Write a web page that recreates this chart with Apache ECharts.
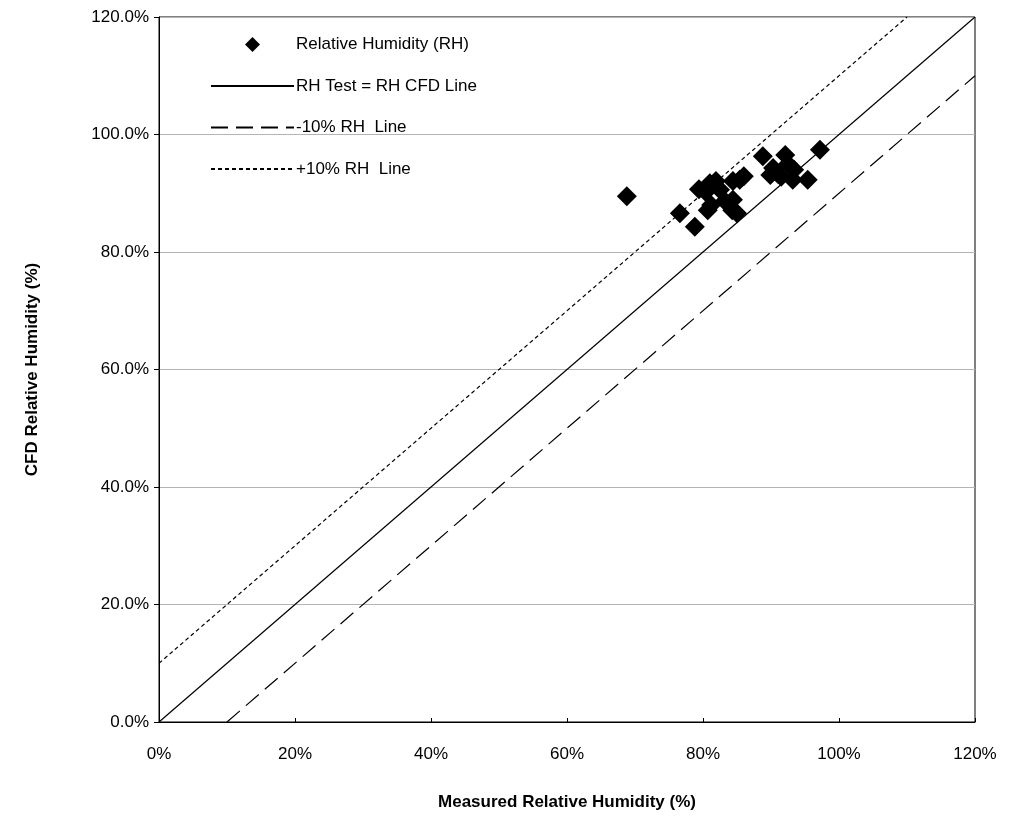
<!DOCTYPE html>
<html>
<head>
<meta charset="utf-8">
<style>
  html, body { margin: 0; padding: 0; background: #fff; }
  #chart { width: 1009px; height: 820px; }
</style>
<script src="https://cdn.jsdelivr.net/npm/echarts@6/dist/echarts.min.js"></script>
</head>
<body>
<div id="chart"></div>
<script>
// Measured vs CFD relative humidity (%)
const measuredRH = [68.8, 76.6, 78.8, 79.4, 81.0, 81.9, 80.7, 81.2, 80.4, 83.2, 84.4, 84.3, 85.0, 84.4,
  85.4, 86.0, 88.8, 92.1, 97.2, 90.3, 92.5, 89.9, 91.5, 93.2, 95.4, 93.4, 82.5, 91.0];
const cfdRH = [89.5, 86.6, 84.3, 90.7, 91.7, 92.1, 87.1, 88.0, 90.2, 88.7, 88.9, 87.1, 86.6, 92.1,
  92.3, 92.9, 96.3, 96.5, 97.4, 94.3, 95.0, 93.1, 92.8, 92.3, 92.3, 94.0, 90.6, 93.3];

// Reference lines: equality and +/-10% bands
const equalLine = [[0, 0], [120, 120]];
const minusTenLine = [[10, 0], [120, 110]];
const plusTenLine = [[0, 10], [110, 120]];

const seriesNames = ['Relative Humidity (RH)', 'RH Test = RH CFD Line', '-10% RH  Line', '+10% RH  Line'];
const xTicks = { min: 0, max: 120, interval: 20 };
const yTicks = { min: 0, max: 120, interval: 20 };

const points = measuredRH.map((x, i) => [x, cfdRH[i]]);
const font = 'Liberation Sans, Arial, sans-serif';
// square-ish diamond path so the legend marker keeps its shape inside a wide slot
const diamondIcon = 'path://M0,7 L7,0 L14,7 L7,14 Z';

const hiddenMarker = { opacity: 0 };

const chart = echarts.init(document.getElementById('chart'), null, { renderer: 'canvas' });
chart.setOption({
  animation: false,
  backgroundColor: '#fff',
  grid: {
    left: 159, right: 34, top: 17, bottom: 98,
    show: true, borderColor: '#000', borderWidth: 1, backgroundColor: 'transparent'
  },
  legend: {
    orient: 'vertical',
    left: 205, top: 31,
    itemWidth: 83, itemHeight: 15,
    itemGap: 24.5,
    symbolKeepAspect: true,
    textStyle: { fontFamily: font, fontSize: 17, color: '#000', padding: [0, 0, 0, -3] },
    data: [
      { name: seriesNames[0], icon: diamondIcon, itemStyle: { color: '#000', opacity: 1 } },
      { name: seriesNames[1], itemStyle: hiddenMarker },
      { name: seriesNames[2], itemStyle: hiddenMarker },
      { name: seriesNames[3], itemStyle: hiddenMarker }
    ]
  },
  xAxis: {
    type: 'value',
    min: xTicks.min, max: xTicks.max, interval: xTicks.interval,
    name: 'Measured Relative Humidity (%)',
    nameLocation: 'middle', nameGap: 72,
    nameTextStyle: { fontFamily: font, fontSize: 17, fontWeight: 'bold', color: '#000' },
    axisLine: { lineStyle: { color: '#000', width: 1 } },
    axisTick: { inside: true, length: 4, lineStyle: { color: '#000' } },
    axisLabel: { fontFamily: font, fontSize: 17, color: '#000', margin: 24, formatter: v => v + '%' },
    splitLine: { show: false }
  },
  yAxis: {
    type: 'value',
    min: yTicks.min, max: yTicks.max, interval: yTicks.interval,
    name: 'CFD Relative Humidity (%)',
    nameLocation: 'middle', nameGap: 118, nameRotate: 90,
    nameTextStyle: { fontFamily: font, fontSize: 17, fontWeight: 'bold', color: '#000' },
    axisLine: { lineStyle: { color: '#000', width: 1 } },
    axisTick: { length: 5, lineStyle: { color: '#000' } },
    axisLabel: { fontFamily: font, fontSize: 17, color: '#000', margin: 10, formatter: v => v.toFixed(1) + '%' },
    splitLine: { show: true, lineStyle: { color: '#b4b4b4', width: 1 } }
  },
  series: [
    {
      name: seriesNames[0], type: 'scatter',
      symbol: 'diamond', symbolSize: 20,
      itemStyle: { color: '#000', opacity: 1 },
      data: points, z: 5
    },
    {
      name: seriesNames[1], type: 'line', symbol: 'none', showSymbol: false,
      itemStyle: { color: '#000' },
      lineStyle: { color: '#000', width: 1.2, type: 'solid' },
      data: equalLine
    },
    {
      name: seriesNames[2], type: 'line', symbol: 'none', showSymbol: false,
      itemStyle: { color: '#000' },
      lineStyle: { color: '#000', width: 1.2, type: [17, 8] },
      data: minusTenLine
    },
    {
      name: seriesNames[3], type: 'line', symbol: 'none', showSymbol: false,
      itemStyle: { color: '#000' },
      lineStyle: { color: '#000', width: 1.2, type: [4, 3] },
      data: plusTenLine
    }
  ]
});
</script>
</body>
</html>
